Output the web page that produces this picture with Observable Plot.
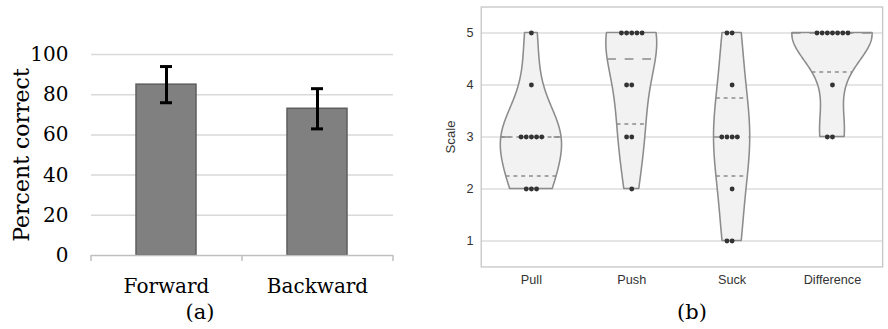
<!DOCTYPE html>
<html>
<head>
<meta charset="utf-8">
<script src="https://cdn.jsdelivr.net/npm/d3@7"></script>
<script src="https://cdn.jsdelivr.net/npm/@observablehq/plot@0.6"></script>
<style>
  html, body { margin: 0; padding: 0; background: #fff; overflow: hidden; }
  #wrap { position: relative; width: 888px; height: 329px; overflow: hidden; background: #fff; }
  #chartA { position: absolute; left: 0; top: 0; }
  #chartB { position: absolute; left: 420px; top: 0; }
  .cap { position: absolute; font-family: "DejaVu Serif", serif; font-size: 21px; line-height: 21px; color: #000; transform: translateX(-50%); white-space: nowrap; }
  #chartA [aria-label="y-axis label"] text { font-size: 22px; }
  #chartB svg text { font-size: 13px; }
  #chartB [aria-label="y-axis label"] text { font-size: 13.5px; }
</style>
</head>
<body>
<div id="wrap">
  <div id="chartA"></div>
  <div id="chartB"></div>
  <div class="cap" id="capA" style="left:200px; top:302px;">(a)</div>
  <div class="cap" id="capB" style="left:692px; top:302px;">(b)</div>
</div>
<script>
// ---------- Panel (a) data ----------
const catsA = ["Forward", "Backward"];
const meanA = [85, 73];
const errA = [9, 10];
const ticksA = [0, 20, 40, 60, 80, 100];

// ---------- Panel (b) data ----------
const catsB = ["Pull", "Push", "Suck", "Difference"];
const levelsB = [1, 2, 3, 4, 5];
const pullCounts = [0, 3, 5, 1, 1];
const pushCounts = [0, 1, 2, 2, 5];
const suckCounts = [2, 1, 4, 1, 2];
const diffCounts = [0, 0, 2, 1, 7];
const ticksB = [1, 2, 3, 4, 5];

// ---------- Panel (a) ----------
const tableA = catsA.map((c, i) => ({cat: c, mean: meanA[i], lo: meanA[i] - errA[i], hi: meanA[i] + errA[i]}));
const stepA = 151;
const chartA = Plot.plot({
  width: 420, height: 300,
  marginLeft: 91, marginRight: 27, marginTop: 54, marginBottom: 45,
  style: {fontFamily: "DejaVu Serif", fontSize: "20px", color: "#000", background: "transparent"},
  x: {domain: catsA, paddingInner: 0.6, paddingOuter: 0.3},
  y: {domain: [0, 100]},
  marks: [
    Plot.ruleY(ticksA.filter(t => t > 0), {stroke: "#d9d9d9", strokeWidth: 1.5}),
    Plot.barY(tableA, {x: "cat", y: "mean", fill: "#808080", stroke: "#5e5e5e", strokeWidth: 1.5}),
    Plot.ruleY([0], {stroke: "#bfbfbf", strokeWidth: 1.5}),
    Plot.ruleX(catsA, {x: d => d, dx: -stepA / 2, y1: 0, y2: 0, insetBottom: -6, stroke: "#bfbfbf", strokeWidth: 1.5}),
    Plot.ruleX(catsA.slice(-1), {x: d => d, dx: stepA / 2, y1: 0, y2: 0, insetBottom: -6, stroke: "#bfbfbf", strokeWidth: 1.5}),
    Plot.ruleX(tableA, {x: "cat", y1: "lo", y2: "hi", stroke: "#000", strokeWidth: 3}),
    Plot.tickY(tableA, {x: "cat", y: "lo", insetLeft: 24, insetRight: 24, stroke: "#000", strokeWidth: 3}),
    Plot.tickY(tableA, {x: "cat", y: "hi", insetLeft: 24, insetRight: 24, stroke: "#000", strokeWidth: 3}),
    Plot.axisY({ticks: ticksA, tickSize: 0, tickPadding: 23, label: "Percent correct", labelAnchor: "center", labelArrow: "none", labelOffset: 78}),
    Plot.axisX({tickSize: 0, tickPadding: 23, label: null})
  ]
});
document.getElementById("chartA").appendChild(chartA);

// ---------- Panel (b) ----------
const countsB = [pullCounts, pushCounts, suckCounts, diffCounts];
const rawB = countsB.map(cs => cs.flatMap((c, j) => Array(c).fill(levelsB[j])));

function quantile(sorted, p) {
  const h = (sorted.length - 1) * p, lo = Math.floor(h), hi = Math.ceil(h);
  return sorted[lo] + (h - lo) * (sorted[hi] - sorted[lo]);
}
function kdeFor(vals) {
  const n = vals.length;
  const mean = d3.mean(vals);
  const sd = Math.sqrt(d3.sum(vals, v => (v - mean) ** 2) / (n - 1));
  const bw = Math.pow(n, -1 / 5) * sd;
  return y => d3.sum(vals, v => Math.exp(-0.5 * ((y - v) / bw) ** 2)) / (n * bw * Math.sqrt(2 * Math.PI));
}
const kdes = rawB.map(kdeFor);
const grids = rawB.map((vals, i) => {
  const lo = d3.min(vals), hi = d3.max(vals);
  return d3.range(100).map(k => { const y = lo + (hi - lo) * k / 99; return {y, d: kdes[i](y)}; });
});
const maxD = d3.max(grids.flat(), g => g.d);
const halfW = 0.4;
const violinRows = grids.flatMap((g, i) => g.map(p => ({cat: catsB[i], y: p.y, x1: i - halfW * p.d / maxD, x2: i + halfW * p.d / maxD})));

const quartRows = [], medianRows = [];
rawB.forEach((vals, i) => {
  const s = vals.slice().sort((a, b) => a - b);
  const lo = s[0], hi = s[s.length - 1];
  [[0.25, quartRows], [0.5, medianRows], [0.75, quartRows]].forEach(([p, arr]) => {
    const q = quantile(s, p);
    if (q <= lo || q >= hi) { if (p !== 0.5) return; }
    const w = halfW * kdes[i](q) / maxD;
    arr.push({y: q, x1: i - w, x2: i + w});
  });
});

const pxPerUnit = (480 - 6 - 62.3) / 4;
const dotGap = 5.3 / pxPerUnit;
const dotRows = [];
countsB.forEach((cs, i) => cs.forEach((c, j) => {
  for (let k = 0; k < c; k++) {
    const slot = k === 0 ? 0 : (k % 2 === 1 ? -Math.ceil(k / 2) : k / 2);
    dotRows.push({x: i + slot * dotGap, y: levelsB[j]});
  }
}));

const violinStroke = "#8c8c8c";
const chartB = Plot.plot({
  width: 480, height: 300,
  marginLeft: 62.3, marginRight: 6, marginTop: 6.7, marginBottom: 26.7,
  style: {fontFamily: "Liberation Sans, Arial, sans-serif", fontSize: "13px", color: "#333", background: "transparent"},
  x: {type: "linear", domain: [-0.5, 3.5]},
  y: {domain: [0.5, 5.5]},
  marks: [
    Plot.ruleY(ticksB, {stroke: "#dcdcdc", strokeWidth: 1.4}),
    Plot.frame({stroke: "#c8c8c8", strokeWidth: 1.4}),
    Plot.areaX(violinRows, {y: "y", x1: "x1", x2: "x2", z: "cat", fill: "#f2f2f2", stroke: violinStroke, strokeWidth: 1.6}),
    Plot.ruleY(quartRows, {y: "y", x1: "x1", x2: "x2", stroke: violinStroke, strokeWidth: 1.5, strokeDasharray: "4,4"}),
    Plot.ruleY(medianRows, {y: "y", x1: "x1", x2: "x2", stroke: violinStroke, strokeWidth: 1.5, strokeDasharray: "9,9"}),
    Plot.dot(dotRows, {x: "x", y: "y", r: 2.5, fill: "#333", stroke: "none"}),
    Plot.axisY({ticks: ticksB, tickFormat: d => String(d), tickSize: 0, tickPadding: 8, label: "Scale", labelAnchor: "center", labelArrow: "none", labelOffset: 37}),
    Plot.axisX({ticks: [0, 1, 2, 3], tickFormat: i => catsB[i], tickSize: 0, tickPadding: 8, label: null})
  ]
});
document.getElementById("chartB").appendChild(chartB);
</script>
</body>
</html>
